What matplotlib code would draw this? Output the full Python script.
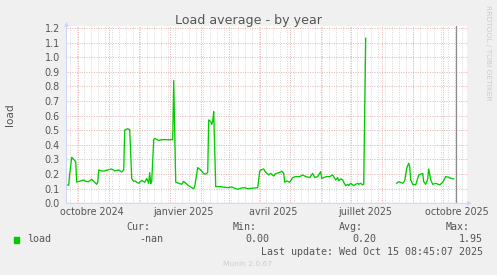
import matplotlib
matplotlib.use("Agg")
import matplotlib.pyplot as plt
import pandas as pd

# daily-ish load average
dates = [
    "2024-09-21", "2024-09-23", "2024-09-24", "2024-09-26", "2024-09-28", "2024-09-30",
    "2024-10-01", "2024-10-03", "2024-10-05", "2024-10-08", "2024-10-10", "2024-10-13",
    "2024-10-16", "2024-10-19", "2024-10-21", "2024-10-22", "2024-10-23", "2024-10-26",
    "2024-10-28", "2024-11-02", "2024-11-05", "2024-11-08", "2024-11-12", "2024-11-15",
    "2024-11-17", "2024-11-18", "2024-11-21", "2024-11-23", "2024-11-25", "2024-11-27",
    "2024-11-28", "2024-12-02", "2024-12-05", "2024-12-08", "2024-12-10", "2024-12-12",
    "2024-12-13", "2024-12-14", "2024-12-15", "2024-12-17", "2024-12-18", "2024-12-22",
    "2024-12-25", "2025-01-01", "2025-01-05", "2025-01-06", "2025-01-08", "2025-01-11",
    "2025-01-14", "2025-01-16", "2025-01-17", "2025-01-21", "2025-01-24", "2025-01-26",
    "2025-01-27", "2025-01-29", "2025-01-30", "2025-02-02", "2025-02-05", "2025-02-07",
    "2025-02-09", "2025-02-10", "2025-02-12", "2025-02-13", "2025-02-14", "2025-02-15",
    "2025-02-17", "2025-02-22", "2025-02-26", "2025-03-01", "2025-03-05", "2025-03-08",
    "2025-03-11", "2025-03-15", "2025-03-18", "2025-03-21", "2025-03-25", "2025-03-31",
    "2025-04-02", "2025-04-03", "2025-04-06", "2025-04-08", "2025-04-11", "2025-04-13",
    "2025-04-16", "2025-04-18", "2025-04-22", "2025-04-24", "2025-04-26", "2025-04-27",
    "2025-04-29", "2025-05-02", "2025-05-05", "2025-05-08", "2025-05-12", "2025-05-15",
    "2025-05-18", "2025-05-22", "2025-05-25", "2025-05-27", "2025-05-30", "2025-06-02",
    "2025-06-03", "2025-06-08", "2025-06-11", "2025-06-14", "2025-06-17", "2025-06-19",
    "2025-06-20", "2025-06-22", "2025-06-24", "2025-06-25", "2025-06-27", "2025-06-29",
    "2025-06-30", "2025-07-02", "2025-07-04", "2025-07-05", "2025-07-07", "2025-07-09",
    "2025-07-10", "2025-07-12", "2025-07-14", "2025-07-15", "2025-07-17", "2025-07-18",
    "2025-08-17", "2025-08-19", "2025-08-23", "2025-08-25", "2025-08-27", "2025-08-29",
    "2025-08-30", "2025-08-31", "2025-09-02", "2025-09-05", "2025-09-08", "2025-09-10",
    "2025-09-12", "2025-09-13", "2025-09-15", "2025-09-17", "2025-09-18", "2025-09-20",
    "2025-09-22", "2025-09-25", "2025-09-29", "2025-10-02", "2025-10-05", "2025-10-08",
    "2025-10-10", "2025-10-13",
]
load = [
    0.125, 0.125, 0.20, 0.315, 0.30, 0.285,
    0.145, 0.150, 0.153, 0.160, 0.150, 0.148,
    0.164, 0.144, 0.130, 0.145, 0.228, 0.222,
    0.220, 0.230, 0.235, 0.222, 0.228, 0.215,
    0.228, 0.500, 0.510, 0.505, 0.170, 0.150,
    0.153, 0.137, 0.157, 0.144, 0.170, 0.137,
    0.210, 0.135, 0.148, 0.434, 0.445, 0.430,
    0.436, 0.435, 0.436, 0.840, 0.145, 0.137,
    0.130, 0.150, 0.144, 0.120, 0.107, 0.100,
    0.115, 0.200, 0.244, 0.228, 0.203, 0.200,
    0.210, 0.571, 0.560, 0.540, 0.560, 0.628,
    0.114, 0.114, 0.110, 0.107, 0.112, 0.103,
    0.096, 0.105, 0.107, 0.100, 0.103, 0.107,
    0.220, 0.228, 0.235, 0.212, 0.194, 0.205,
    0.187, 0.203, 0.212, 0.220, 0.205, 0.144,
    0.153, 0.144, 0.176, 0.183, 0.183, 0.194,
    0.183, 0.176, 0.205, 0.176, 0.183, 0.217,
    0.171, 0.183, 0.183, 0.194, 0.160, 0.176,
    0.153, 0.167, 0.160, 0.144, 0.121, 0.130,
    0.121, 0.137, 0.126, 0.121, 0.130, 0.137,
    0.130, 0.137, 0.126, 0.130, 1.130, float("nan"),
    0.137, 0.148, 0.137, 0.153, 0.240, 0.274,
    0.251, 0.160, 0.130, 0.126, 0.194, 0.199,
    0.205, 0.148, 0.130, 0.167, 0.235, 0.160,
    0.130, 0.137, 0.126, 0.144, 0.183, 0.178,
    0.171, 0.167,
]

y_ticks = [0.0, 0.1, 0.2, 0.3, 0.4, 0.5, 0.6, 0.7, 0.8, 0.9, 1.0, 1.1, 1.2]
label_dates = ["2024-10-16", "2025-01-16", "2025-04-16", "2025-07-16", "2025-10-16"]
label_names = ["octobre 2024", "janvier 2025", "avril 2025", "juillet 2025", "octobre 2025"]
now = "2025-10-15 08:45:07"
stat_names = ["Cur:", "Min:", "Avg:", "Max:"]
stat_values = ["-nan", "0.00", "0.20", "1.95"]
last_update = "Last update: Wed Oct 15 08:45:07 2025"

W, H = 497, 275
def px(x, y):
    return x / W, 1 - y / H

fig = plt.figure(figsize=(W / 100, H / 100), dpi=100, facecolor="#f0f0f0")
ax = fig.add_axes([66.5 / W, 1 - 203.3 / H, (467.3 - 66.5) / W, (203.3 - 25.8) / H])
ax.set_facecolor("white")
for s in ax.spines.values():
    s.set_visible(False)

x0 = pd.Timestamp("2024-09-20 19:00")
x1 = pd.Timestamp("2025-10-26 14:00")
ax.set_xlim(x0, x1)
ax.set_ylim(0, 1.215)

dots = (0, (1, 1.4))
for d in pd.date_range(x0, x1, freq="W-MON"):
    ax.axvline(d, color="#dadada", lw=0.72, ls=dots, zorder=1)
for d in pd.date_range(x0, x1, freq="MS"):
    ax.axvline(d, color="#ebb3b3", lw=0.72, ls=dots, zorder=1.5)
for v in y_ticks[1:]:
    ax.axhline(v, color="#ebb3b3", lw=0.72, ls=dots, zorder=1.5)

ax.plot(pd.to_datetime(dates), load, color="#00cc00", lw=0.95, zorder=3)
ax.axvline(pd.Timestamp(now), color="#8c8c8c", lw=0.9, zorder=4)

# axis lines with rrdtool style arrows
arrow = dict(arrowstyle="-|>", color="#cfd6f8", lw=0.8, mutation_scale=6, shrinkA=0, shrinkB=0)
ax.annotate("", xy=(1.0117, 0), xytext=(0, 0), xycoords="axes fraction",
            arrowprops=arrow, annotation_clip=False, zorder=5)
ax.annotate("", xy=(0, 1.023), xytext=(0, 0), xycoords="axes fraction",
            arrowprops=arrow, annotation_clip=False, zorder=5)

ax.set_yticks(y_ticks)
ax.set_yticklabels([f"{v:.1f}" for v in y_ticks])
ax.set_xticks(pd.to_datetime(label_dates))
ax.set_xticklabels(label_names)
ax.tick_params(axis="both", length=0, labelsize=6.9, labelcolor="#555555")
ax.tick_params(axis="y", pad=4.7)
ax.tick_params(axis="x", pad=2.6)

fig.text(*px(248.5, 24.3), "Load average - by year", ha="center", va="baseline",
         fontsize=9.1, color="#555555")
fig.text(*px(10.5, 115), "load", rotation=90, ha="center", va="center",
         fontsize=7.6, color="#555555")
fig.text(*px(488.3, 53.3), "RRDTOOL / TOBI OETIKER", rotation=270, ha="center",
         va="center", fontsize=5.4, color="#cccccc")

mono = dict(family="DejaVu Sans Mono", fontsize=7.2, color="#555555", va="center")
fig.patches.append(plt.Rectangle(px(14, 242.7), 5.3 / W, 5.3 / H, color="#00cc00",
                                 transform=fig.transFigure, figure=fig))
fig.text(*px(26.7, 239.5), "load", **mono)
for i, (name, val) in enumerate(zip(stat_names, stat_values)):
    fig.text(*px(150.3 + i * 106.5, 227.3), name, ha="right", **mono)
    fig.text(*px(163 + i * 106.5, 239.5), val, ha="right", **mono)
fig.text(*px(482.7, 251.7), last_update, ha="right", **mono)
fig.text(*px(247.8, 263.7), "Munin 2.0.67", ha="center", va="center",
         fontsize=5.4, color="#cccccc")

fig.savefig("out.png", dpi=100, facecolor=fig.get_facecolor())
